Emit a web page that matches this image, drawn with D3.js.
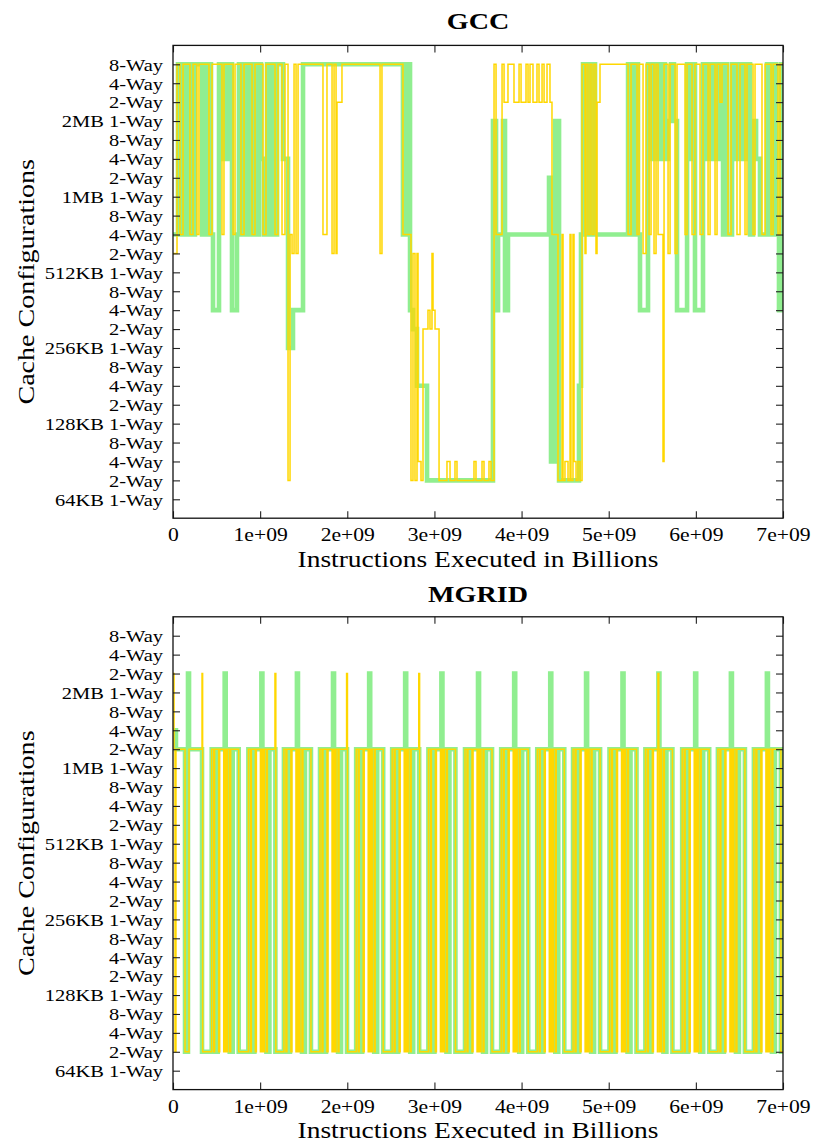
<!DOCTYPE html>
<html><head><meta charset="utf-8">
<script src="https://cdn.jsdelivr.net/npm/d3@7"></script>
<style>body{margin:0;background:#fff}svg{display:block}</style>
</head><body>
<svg id="chart" width="816" height="1143"></svg>
<script>
// ---- data ----
const yTickLabels = ["64KB 1-Way","2-Way","4-Way","8-Way","128KB 1-Way","2-Way","4-Way","8-Way",
  "256KB 1-Way","2-Way","4-Way","8-Way","512KB 1-Way","2-Way","4-Way","8-Way",
  "1MB 1-Way","2-Way","4-Way","8-Way","2MB 1-Way","2-Way","4-Way","8-Way"];
const xTickValues = [0,1e9,2e9,3e9,4e9,5e9,6e9,7e9];
const xTickLabels = ["0","1e+09","2e+09","3e+09","4e+09","5e+09","6e+09","7e+09"];
const panelTitles = ["GCC","MGRID"];
const xAxisTitle = "Instructions Executed in Billions";
const yAxisTitle = "Cache Configurations";

// [instructions in billions, configuration index]
const gccGreen = [[0,14],[0.057,23],[0.080,14],[0.115,23],[0.161,14],[0.195,23],[0.230,14],[0.252,23],[0.333,14],[0.356,23],[0.390,14],[0.413,23],[0.436,14],[0.459,10],[0.528,23],[0.562,18],[0.608,23],[0.631,18],[0.666,23],[0.677,10],[0.734,14],[0.757,23],[0.780,14],[0.803,23],[0.826,14],[0.861,23],[0.884,14],[0.918,23],[0.953,14],[0.987,23],[1.010,18],[1.044,14],[1.079,23],[1.113,14],[1.148,23],[1.171,14],[1.194,23],[1.262,18],[1.320,8],[1.377,10],[1.492,23],[2.639,14],[2.685,23],[2.720,10],[2.754,9],[2.800,6],[2.915,1],[3.672,20],[3.707,10],[3.730,14],[3.787,20],[3.810,10],[3.844,14],[4.315,17],[4.338,2],[4.384,20],[4.430,1],[4.659,6],[4.682,14],[4.705,23],[4.728,14],[4.751,23],[4.786,14],[4.808,23],[4.843,14],[5.222,23],[5.245,14],[5.268,23],[5.290,14],[5.313,23],[5.336,14],[5.359,10],[5.451,23],[5.474,18],[5.497,23],[5.531,18],[5.554,23],[5.589,18],[5.612,23],[5.646,18],[5.681,20],[5.715,23],[5.749,20],[5.784,10],[5.899,23],[5.933,18],[5.968,23],[5.990,10],[6.082,23],[6.117,18],[6.151,23],[6.186,18],[6.220,23],[6.254,18],[6.277,23],[6.312,14],[6.335,23],[6.358,14],[6.415,23],[6.461,18],[6.495,23],[6.541,18],[6.576,23],[6.622,14],[6.656,20],[6.691,18],[6.736,14],[6.817,23],[6.851,14],[6.886,23],[6.920,14],[6.954,10],[6.977,23]];

const gccGold = [[0,13],[0.046,23],[0.080,14],[0.115,23],[0.195,14],[0.230,23],[0.275,14],[0.298,23],[0.413,14],[0.448,23],[0.562,14],[0.585,23],[0.689,14],[0.712,23],[0.780,14],[0.815,23],[0.907,14],[0.941,23],[1.033,14],[1.067,23],[1.171,14],[1.205,23],[1.251,14],[1.285,23],[1.320,1],[1.343,14],[1.366,13],[1.389,23],[1.412,13],[1.435,23],[1.721,14],[1.767,23],[1.825,13],[1.848,23],[1.871,13],[1.882,21],[1.939,23],[2.376,13],[2.398,23],[2.639,14],[2.731,1],[2.754,13],[2.777,1],[2.800,13],[2.812,2],[2.846,1],[2.869,9],[2.926,10],[2.949,9],[2.972,13],[2.984,10],[3.007,9],[3.053,1],[3.144,2],[3.179,1],[3.236,2],[3.259,1],[3.454,2],[3.477,1],[3.546,2],[3.569,1],[3.626,2],[3.649,1],[3.684,23],[3.707,14],[3.776,23],[3.799,21],[3.844,23],[3.913,21],[3.971,23],[3.994,21],[4.051,23],[4.074,21],[4.097,23],[4.131,21],[4.177,23],[4.200,21],[4.235,23],[4.258,21],[4.292,23],[4.326,21],[4.349,14],[4.418,1],[4.464,14],[4.476,1],[4.498,2],[4.533,1],[4.556,14],[4.567,1],[4.590,14],[4.602,2],[4.625,1],[4.648,2],[4.671,1],[4.694,23],[4.728,13],[4.739,23],[4.762,14],[4.786,23],[4.808,14],[4.831,23],[4.854,13],[4.866,21],[4.900,23],[5.222,14],[5.256,23],[5.325,14],[5.348,23],[5.394,13],[5.428,23],[5.463,14],[5.486,23],[5.520,13],[5.543,23],[5.566,14],[5.623,2],[5.635,23],[5.681,13],[5.704,23],[5.761,13],[5.784,23],[5.876,14],[5.899,23],[5.956,14],[5.990,23],[6.048,14],[6.082,23],[6.140,14],[6.163,23],[6.220,14],[6.243,23],[6.277,21],[6.300,23],[6.369,14],[6.404,23],[6.472,14],[6.507,23],[6.564,14],[6.587,23],[6.656,14],[6.679,23],[6.759,14],[6.794,23],[6.863,14],[6.886,23],[6.943,14],[6.966,23]];

const mgridGreen = [[0,18],[0.034,17],[0.138,1],[0.172,21],[0.184,17],[0.333,1],
[0.444,17],[0.478,1],[0.513,17],[0.593,21],[0.605,17],[0.651,1],[0.685,17],[0.754,1],
[0.865,17],[0.899,1],[0.934,17],[1.014,21],[1.026,17],[1.072,1],[1.106,17],[1.175,1],
[1.273,17],[1.307,1],[1.342,17],[1.422,21],[1.434,17],[1.480,1],[1.514,17],[1.583,1],
[1.687,17],[1.721,1],[1.756,17],[1.836,21],[1.848,17],[1.894,1],[1.928,17],[1.997,1],
[2.102,17],[2.136,1],[2.171,17],[2.251,21],[2.263,17],[2.309,1],[2.343,17],[2.412,1],
[2.515,17],[2.549,1],[2.584,17],[2.664,21],[2.676,17],[2.722,1],[2.756,17],[2.825,1],
[2.931,17],[2.965,1],[3.000,17],[3.080,21],[3.092,17],[3.138,1],[3.172,17],[3.241,1],
[3.351,17],[3.385,1],[3.420,17],[3.500,21],[3.512,17],[3.558,1],[3.592,17],[3.661,1],
[3.766,17],[3.800,1],[3.835,17],[3.915,21],[3.927,17],[3.973,1],[4.007,17],[4.076,1],
[4.180,17],[4.214,1],[4.249,17],[4.329,21],[4.341,17],[4.387,1],[4.421,17],[4.490,1],
[4.591,17],[4.625,1],[4.660,17],[4.740,21],[4.752,17],[4.798,1],[4.832,17],[4.901,1],
[5.009,17],[5.043,1],[5.078,17],[5.158,21],[5.170,17],[5.216,1],[5.250,17],[5.319,1],
[5.421,17],[5.455,1],[5.490,17],[5.570,21],[5.582,17],[5.628,1],[5.662,17],[5.731,1],
[5.843,17],[5.877,1],[5.912,17],[5.992,21],[6.004,17],[6.050,1],[6.084,17],[6.153,1],
[6.253,17],[6.287,1],[6.322,17],[6.402,21],[6.414,17],[6.460,1],[6.494,17],[6.563,1],
[6.666,17],[6.700,1],[6.735,17],[6.815,21],[6.827,17],[6.873,1],[6.907,17],[6.976,1]];

const mgridGold = [[0,21],[0.012,17],[0.023,1],[0.034,17],[0.138,1],[0.184,17],[0.333,21],[0.340,1],
[0.444,17],[0.467,1],[0.478,17],[0.524,1],[0.536,17],[0.582,1],[0.588,17],[0.594,1],[0.600,17],[0.606,1],[0.612,17],[0.618,1],[0.628,17],[0.651,1],[0.662,17],[0.754,1],
[0.865,17],[0.888,1],[0.899,17],[0.945,1],[0.957,17],[1.003,1],[1.009,17],[1.015,1],[1.021,17],[1.027,1],[1.033,17],[1.039,1],[1.049,17],[1.072,1],[1.083,17],[1.170,21],[1.180,1],
[1.273,17],[1.296,1],[1.307,17],[1.353,1],[1.365,17],[1.411,1],[1.417,17],[1.423,1],[1.429,17],[1.435,1],[1.441,17],[1.447,1],[1.457,17],[1.480,1],[1.491,17],[1.583,1],
[1.687,17],[1.710,1],[1.721,17],[1.767,1],[1.779,17],[1.825,1],[1.831,17],[1.837,1],[1.843,17],[1.849,1],[1.855,17],[1.861,1],[1.871,17],[1.894,1],[1.905,17],[1.992,21],[2.002,1],
[2.102,17],[2.125,1],[2.136,17],[2.182,1],[2.194,17],[2.240,1],[2.246,17],[2.252,1],[2.258,17],[2.264,1],[2.270,17],[2.276,1],[2.286,17],[2.309,1],[2.320,17],[2.412,1],
[2.515,17],[2.538,1],[2.549,17],[2.595,1],[2.607,17],[2.653,1],[2.659,17],[2.665,1],[2.671,17],[2.677,1],[2.683,17],[2.689,1],[2.699,17],[2.722,1],[2.733,17],[2.820,21],[2.830,1],
[2.931,17],[2.954,1],[2.965,17],[3.011,1],[3.023,17],[3.069,1],[3.075,17],[3.081,1],[3.087,17],[3.093,1],[3.099,17],[3.105,1],[3.115,17],[3.138,1],[3.149,17],[3.241,1],
[3.351,17],[3.374,1],[3.385,17],[3.431,1],[3.443,17],[3.489,1],[3.495,17],[3.501,1],[3.507,17],[3.513,1],[3.519,17],[3.525,1],[3.535,17],[3.558,1],[3.569,17],[3.661,1],
[3.766,17],[3.789,1],[3.800,17],[3.846,1],[3.858,17],[3.904,1],[3.910,17],[3.916,1],[3.922,17],[3.928,1],[3.934,17],[3.940,1],[3.950,17],[3.973,1],[3.984,17],[4.076,1],
[4.180,17],[4.203,1],[4.214,17],[4.260,1],[4.272,17],[4.318,1],[4.324,17],[4.330,1],[4.336,17],[4.342,1],[4.348,17],[4.354,1],[4.364,17],[4.387,1],[4.398,17],[4.490,1],
[4.591,17],[4.614,1],[4.625,17],[4.671,1],[4.683,17],[4.729,1],[4.735,17],[4.741,1],[4.747,17],[4.753,1],[4.759,17],[4.765,1],[4.775,17],[4.798,1],[4.809,17],[4.901,1],
[5.009,17],[5.032,1],[5.043,17],[5.089,1],[5.101,17],[5.147,1],[5.153,17],[5.159,1],[5.165,17],[5.171,1],[5.177,17],[5.183,1],[5.193,17],[5.216,1],[5.227,17],[5.319,1],
[5.421,17],[5.444,1],[5.455,17],[5.501,1],[5.513,17],[5.559,1],[5.565,21],[5.575,17],[5.583,1],[5.589,17],[5.595,1],[5.605,17],[5.628,1],[5.639,17],[5.731,1],
[5.843,17],[5.866,1],[5.877,17],[5.923,1],[5.935,17],[5.981,1],[5.987,17],[5.993,1],[5.999,17],[6.005,1],[6.011,17],[6.017,1],[6.027,17],[6.050,1],[6.061,17],[6.153,1],
[6.253,17],[6.276,1],[6.287,17],[6.333,1],[6.345,17],[6.391,1],[6.397,17],[6.403,1],[6.409,17],[6.415,1],[6.421,17],[6.427,1],[6.437,17],[6.460,1],[6.471,17],[6.563,1],
[6.666,17],[6.689,1],[6.700,17],[6.746,1],[6.758,17],[6.804,1],[6.810,17],[6.816,1],[6.822,17],[6.828,1],[6.834,17],[6.840,1],[6.850,17],[6.873,1],[6.884,17],[6.976,1]];

// ---- drawing ----
const FONT = "'Liberation Serif','Times New Roman',Times,serif";
const SX = 1.17; // horizontal stretch of the original typeface
const GREEN = "#90ee90", GOLD = "#ffd700";
const svg = d3.select("#chart");
const left = 173, right = 783;

const panels = [
  {title: panelTitles[0], top: 45.4, bottom: 518.2, green: gccGreen, gold: gccGold, titleY: 29, labelY: 567},
  {title: panelTitles[1], top: 616.8, bottom: 1089.6, green: mgridGreen, gold: mgridGold, titleY: 602, labelY: 1138}
];

function stretchedText(g, x, y, txt, size, opts = {}) {
  const t = g.append("text")
    .attr("transform", `translate(${x},${y}) scale(${SX},1)`)
    .attr("font-family", FONT).attr("font-size", size)
    .attr("text-anchor", opts.anchor || "middle")
    .attr("fill", "#000")
    .text(txt);
  if (opts.bold) t.attr("font-weight", "bold");
  return t;
}

panels.forEach((p, i) => {
  const g = svg.append("g");
  const x = d3.scaleLinear().domain([0, 7e9]).range([left, right]);
  const y = d3.scaleLinear().domain([-1, 24]).range([p.bottom, p.top]);

  const clipId = "clip" + i;
  svg.append("clipPath").attr("id", clipId).append("rect")
    .attr("x", left).attr("y", p.top).attr("width", right - left).attr("height", p.bottom - p.top);

  const line = d3.line().x(d => x(d[0] * 1e9)).y(d => y(d[1])).curve(d3.curveStepAfter);
  const ext = arr => arr.concat([[7.0, arr[arr.length - 1][1]]]);

  const plot = g.append("g").attr("clip-path", `url(#${clipId})`);
  plot.append("path").datum(ext(p.green)).attr("d", line)
    .attr("fill", "none").attr("stroke", GREEN).attr("stroke-width", 4.6).attr("stroke-linejoin", "miter");
  plot.append("path").datum(ext(p.gold)).attr("d", line)
    .attr("fill", "none").attr("stroke", GOLD).attr("stroke-width", 1.5);

  // axes with inward ticks on all four sides
  const tk = 7;
  const yl = g.append("g").attr("transform", `translate(${left},0)`)
    .call(d3.axisLeft(y).tickValues(d3.range(24)).tickFormat(k => yTickLabels[k]).tickSizeInner(-tk).tickSizeOuter(0).tickPadding(8.5));
  yl.selectAll("text").attr("font-family", FONT).attr("font-size", 17.5).attr("fill", "#000")
    .attr("dy", "0.33em").attr("transform", `scale(${SX},1)`);
  const yr = g.append("g").attr("transform", `translate(${right},0)`)
    .call(d3.axisRight(y).tickValues(d3.range(24)).tickFormat("").tickSizeInner(-tk).tickSizeOuter(0));
  const xb = g.append("g").attr("transform", `translate(0,${p.bottom})`)
    .call(d3.axisBottom(x).tickValues(xTickValues).tickFormat((d, k) => xTickLabels[k]).tickSizeInner(-tk).tickSizeOuter(0).tickPadding(10));
  xb.selectAll("text").attr("font-family", FONT).attr("font-size", 18.5).attr("fill", "#000")
    .attr("transform", `scale(${SX},1)`);
  const xt = g.append("g").attr("transform", `translate(0,${p.top})`)
    .call(d3.axisTop(x).tickValues(xTickValues).tickFormat("").tickSizeInner(-tk).tickSizeOuter(0));
  [yl, yr, xb, xt].forEach(a => {
    a.select(".domain").remove();
    a.selectAll("line").attr("stroke", "#222").attr("stroke-width", 1.1);
  });

  // frame
  g.append("rect").attr("x", left).attr("y", p.top).attr("width", right - left).attr("height", p.bottom - p.top)
    .attr("fill", "none").attr("stroke", "#111").attr("stroke-width", 1.3);

  // titles
  stretchedText(g, (left + right) / 2, p.titleY, p.title, 24, {bold: true});
  stretchedText(g, (left + right) / 2, p.labelY, xAxisTitle, 23.5);
  g.append("text")
    .attr("transform", `translate(34,${(p.top + p.bottom) / 2}) rotate(-90) scale(${SX},1)`)
    .attr("font-family", FONT).attr("font-size", 24).attr("text-anchor", "middle").attr("fill", "#000")
    .text(yAxisTitle);
});
</script>
</body></html>
